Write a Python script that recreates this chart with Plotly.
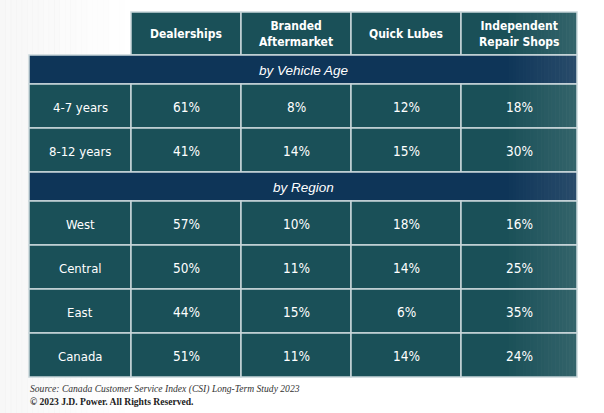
import plotly.graph_objects as go

# ---------------- data ----------------
columns = ["Dealerships", "Branded<br>Aftermarket", "Quick Lubes", "Independent<br>Repair Shops"]
section_age = "by Vehicle Age"
age_labels = ["4-7 years", "8-12 years"]
age_values = [[61, 8, 12, 18], [41, 14, 15, 30]]
section_region = "by Region"
region_labels = ["West", "Central", "East", "Canada"]
region_values = [[57, 10, 18, 16], [50, 11, 14, 25], [44, 15, 6, 35], [51, 11, 14, 24]]
source_text = "Source: Canada Customer Service Index (CSI) Long-Term Study 2023"
copyright_text = "© 2023 J.D. Power. All Rights Reserved."

# ---------------- layout geometry (pixel units on axes) ----------------
W, H = 604, 413
COL_EDGES = [29, 131, 241, 351, 461, 577]
HEADER = (12, 55)
BAND_H = 29
ROW_H = 44

TEAL = "#1a5058"
NAVY = "#0e3558"
GRID = "#c9d6da"
COND = "DejaVu Sans Condensed, Liberation Sans Narrow, sans-serif"
SANS = "Liberation Sans, Arial, sans-serif"
SERIF = "Liberation Serif, DejaVu Serif, serif"

shapes = []
annotations = []


def rect(x0, x1, y0, y1, color, line=GRID, lw=1.5):
    shapes.append(dict(type="rect", xref="x", yref="y", x0=x0, x1=x1, y0=y0, y1=y1,
                       fillcolor=color, line=dict(color=line, width=lw), layer="below"))


def text(x, y, s, size=13, font=COND, color="white", anchor="center", italic=False,
         bold=False, weight="normal"):
    if italic:
        s = "<i>" + s + "</i>"
    if bold:
        s = "<b>" + s + "</b>"
    annotations.append(dict(x=x, y=y, xref="x", yref="y", text=s, showarrow=False,
                            xanchor=anchor, yanchor="middle",
                            font=dict(size=size, family=font, color=color, weight=weight)))


# background left gray gradient
steps = 24
for i in range(steps):
    x0 = i * 130 / steps
    a = 0.075 * (1 - i / steps)
    shapes.append(dict(type="rect", xref="x", yref="y", x0=x0, x1=x0 + 130 / steps + 0.5,
                       y0=0, y1=H, fillcolor=f"rgba(150,150,150,{a:.4f})",
                       line=dict(width=0), layer="below"))

# header
for j, c in enumerate(columns):
    x0, x1 = COL_EDGES[j + 1], COL_EDGES[j + 2]
    rect(x0, x1, HEADER[0], HEADER[1], TEAL)
    text((x0 + x1) / 2, (HEADER[0] + HEADER[1]) / 2, c, size=12, weight="bold")

y = HEADER[1]


def band(y, title):
    rect(COL_EDGES[0], COL_EDGES[-1], y, y + BAND_H, NAVY)
    text((COL_EDGES[0] + COL_EDGES[-1]) / 2, y + BAND_H / 2 + 1, title, size=13.5, font=SANS, italic=True)
    return y + BAND_H


def rows(y, labels, values):
    for lab, vals in zip(labels, values):
        rect(COL_EDGES[0], COL_EDGES[1], y, y + ROW_H, TEAL)
        text((COL_EDGES[0] + COL_EDGES[1]) / 2, y + ROW_H / 2 + 1, lab, size=13)
        for j, v in enumerate(vals):
            x0, x1 = COL_EDGES[j + 1], COL_EDGES[j + 2]
            rect(x0, x1, y, y + ROW_H, TEAL)
            text((x0 + x1) / 2, y + ROW_H / 2 + 1, f"{v}%", size=13.5)
        y += ROW_H
    return y


y = band(y, section_age)
y = rows(y, age_labels, age_values)
y = band(y, section_region)
y = rows(y, region_labels, region_values)
table_bottom = y

# right-edge light gradient over the table
gsteps = 20
gx0, gx1 = 505, COL_EDGES[-1]
for i in range(gsteps):
    x0 = gx0 + (gx1 - gx0) * i / gsteps
    a = 0.11 * (i + 1) / gsteps
    shapes.append(dict(type="rect", xref="x", yref="y", x0=x0, x1=x0 + (gx1 - gx0) / gsteps + 0.3,
                       y0=HEADER[0] + 0.8, y1=table_bottom - 0.8,
                       fillcolor=f"rgba(255,255,255,{a:.4f})", line=dict(width=0), layer="below"))

# footnotes
text(COL_EDGES[0] - 1, table_bottom + 12, source_text, size=9.6, font=SERIF, color="#333333",
     anchor="left", italic=True)
text(COL_EDGES[0] - 1, table_bottom + 24, copyright_text, size=9.6, font=SERIF, color="#222222",
     anchor="left", bold=True)

fig = go.Figure()
fig.add_trace(go.Scatter(x=[0, W], y=[0, H], mode="markers", marker=dict(opacity=0),
                         hoverinfo="skip", showlegend=False))
fig.update_layout(
    width=W, height=H, margin=dict(l=0, r=0, t=0, b=0),
    paper_bgcolor="white", plot_bgcolor="white",
    xaxis=dict(range=[0, W], visible=False, fixedrange=True),
    yaxis=dict(range=[H, 0], visible=False, fixedrange=True),
    shapes=shapes, annotations=annotations, showlegend=False,
)
fig.write_html("out.html", config={"displayModeBar": False},
               post_script="document.body.style.margin='0';document.body.style.overflow='hidden';")
